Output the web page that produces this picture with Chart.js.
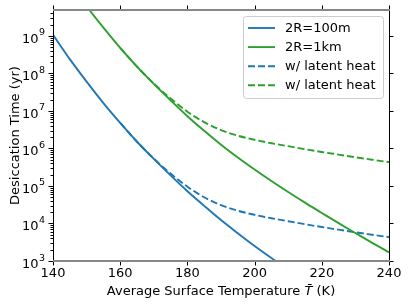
<!DOCTYPE html>
<html>
<head>
<meta charset="utf-8">
<script src="https://cdn.jsdelivr.net/npm/chart.js@4.4.1/dist/chart.umd.min.js"></script>
<style>
  html, body { margin: 0; padding: 0; background: #fff; }
  #box { width: 409px; height: 306px; }
</style>
</head>
<body>
<div id="box"><canvas id="chart"></canvas></div>
<script>
/* values, temperature in K, time in yr */
const temps = [140, 145, 150, 155, 160, 165, 170, 175, 180, 185, 190, 195, 200, 205, 210, 215, 220, 225, 230, 235, 240]

const time100m = [1.07e9, 2.40e8, 6.03e7, 1.62e7, 4.79e6, 1.51e6, 5.25e5, 1.91e5, 7.24e4, 2.95e4, 1.23e4, 5.50e3, 2.51e3, 1.20e3, 5.89e2,
	null, null, null, null, null, null]
const time1km = [null, 2.63e10, 6.17e9, 1.66e9, 4.79e8, 1.51e8, 5.25e7, 1.91e7, 7.24e6, 2.95e6, 1.26e6, 5.75e5, 2.75e5, 1.36e5, 6.92e4,
	3.59e4, 1.91e4, 1.02e4, 5.56e3, 3.05e3, 1.70e3]
const time100mLatent = [null, null, null, null, 4.79e6, 1.51e6, 5.37e5, 2.14e5, 9.55e4, 5.01e4, 3.09e4, 2.19e4, 1.70e4, 1.38e4, 1.15e4,
	9.55e3, 8.04e3, 6.84e3, 5.82e3, 5.01e3, 4.32e3]
const time1kmLatent = [null, null, null, null, 4.79e8, 1.51e8, 5.37e7, 2.14e7, 9.55e6, 5.01e6, 3.09e6, 2.19e6, 1.70e6, 1.38e6, 1.15e6,
	9.55e5, 8.04e5, 6.84e5, 5.82e5, 5.01e5, 4.32e5]

const labels = ['2R=100m', '2R=1km', 'w/ latent heat', 'w/ latent heat']
const xTicks = [140, 160, 180, 200, 220, 240]
const yExps = [3, 4, 5, 6, 7, 8, 9]

const blue = '#1f77b4'
const green = '#2ca02c'
const font = 'DejaVu Sans'

const toPoints = (arr) => temps.map((t, i) => ({ x: t, y: arr[i] }))

const line = (label, data, color, dash) => ({
	label: label,
	data: toPoints(data),
	borderColor: color,
	backgroundColor: color,
	borderWidth: 1.9,
	borderDash: dash,
	pointRadius: 0,
	cubicInterpolationMode: 'monotone',
	spanGaps: false
})

/* spines, tick marks and the 10^n labels, matplotlib style */
const frame = {
	id: 'frame',
	afterDraw(chart) {
		const { ctx, chartArea: a, scales: { x, y } } = chart
		ctx.save()
		ctx.strokeStyle = '#000'
		ctx.lineWidth = 1
		ctx.beginPath()
		ctx.moveTo(a.left + 0.5, a.top); ctx.lineTo(a.left + 0.5, a.bottom)
		ctx.moveTo(a.right + 0.5, a.top); ctx.lineTo(a.right + 0.5, a.bottom)
		xTicks.forEach((t) => {
			const px = Math.round(x.getPixelForValue(t)) + 0.5
			ctx.moveTo(px, a.bottom); ctx.lineTo(px, a.bottom + 4.5)
			ctx.moveTo(px, a.top); ctx.lineTo(px, a.top - 4.5)
		})
		yExps.forEach((e) => {
			for (let m = 1; m < 10; m++) {
				const v = m * Math.pow(10, e)
				if (v > y.max) break
				const py = Math.round(y.getPixelForValue(v)) + 0.5
				const len = m === 1 ? 4.5 : 2.5
				ctx.moveTo(a.left, py); ctx.lineTo(a.left - len, py)
				if (m === 1) { ctx.moveTo(a.right, py); ctx.lineTo(a.right + len, py) }
			}
		})
		ctx.stroke()
		ctx.strokeStyle = '#888'
		ctx.lineWidth = 2
		ctx.beginPath()
		ctx.moveTo(a.left, a.top); ctx.lineTo(a.right + 1, a.top)
		ctx.moveTo(a.left, a.bottom); ctx.lineTo(a.right + 1, a.bottom)
		ctx.stroke()

		ctx.fillStyle = '#000'
		// y tick labels: 10 with a raised exponent
		yExps.forEach((e) => {
			const py = y.getPixelForValue(Math.pow(10, e))
			const right = a.left - 8
			ctx.font = `9.5px "${font}"`
			const ew = ctx.measureText(String(e)).width
			ctx.textAlign = 'right'
			ctx.textBaseline = 'alphabetic'
			ctx.fillText(String(e), right, py - 0.5)
			ctx.font = `13px "${font}"`
			ctx.fillText('10', right - ew - 0.5, py + 7)
		})

		// x axis title with italic T-bar
		const cy = 292
		const parts = [['Average Surface Temperature ', 'normal'], ['T\u0304', 'italic'], [' (K)', 'normal']]
		let total = 0
		parts.forEach((p) => { ctx.font = `${p[1]} 13px "${font}"`; total += ctx.measureText(p[0]).width })
		let cx = (a.left + a.right) / 2 - total / 2
		ctx.textBaseline = 'middle'
		ctx.textAlign = 'left'
		parts.forEach((p) => {
			ctx.font = `${p[1]} 13px "${font}"`
			ctx.fillText(p[0], cx, cy)
			cx += ctx.measureText(p[0]).width
		})
		ctx.restore()
	}
}

/* legend box inside the upper right of the axes */
const innerLegend = {
	id: 'innerLegend',
	afterDraw(chart) {
		const { ctx, chartArea: a } = chart
		const w = 140, h = 82
		const x0 = a.right - 6 - w, y0 = a.top + 6
		ctx.save()
		ctx.beginPath()
		ctx.roundRect(x0 + 0.5, y0 + 0.5, w, h, 3)
		ctx.fillStyle = 'rgba(255,255,255,0.8)'
		ctx.fill()
		ctx.strokeStyle = '#cccccc'
		ctx.lineWidth = 1
		ctx.stroke()
		ctx.font = `13px "${font}"`
		ctx.textBaseline = 'middle'
		chart.data.datasets.forEach((ds, i) => {
			const ry = y0 + 12 + i * 19.1
			ctx.beginPath()
			ctx.setLineDash(ds.borderDash || [])
			ctx.strokeStyle = ds.borderColor
			ctx.lineWidth = ds.borderWidth
			ctx.moveTo(x0 + 5, ry); ctx.lineTo(x0 + 32, ry)
			ctx.stroke()
			ctx.setLineDash([])
			ctx.fillStyle = '#000'
			ctx.fillText(ds.label, x0 + 42, ry + 0.5)
		})
		ctx.restore()
	}
}

new Chart('chart', {
	type: 'line',
	data: {
		datasets: [
			line(labels[0], time100m, blue, []),
			line(labels[1], time1km, green, []),
			line(labels[2], time100mLatent, blue, [7, 3]),
			line(labels[3], time1kmLatent, green, [7, 3])
		]
	},
	options: {
		responsive: true,
		maintainAspectRatio: false,
		animation: false,
		layout: { padding: { top: 10, right: 20, left: 0, bottom: 0 } },
		plugins: { legend: { display: false }, tooltip: { enabled: false } },
		scales: {
			x: {
				type: 'linear',
				min: 140,
				max: 240,
				grid: { display: false, drawTicks: false },
				border: { display: false },
				ticks: { stepSize: 20, padding: 5, color: '#000', font: { family: font, size: 13 }, maxRotation: 0 },
				afterFit: (s) => { s.height = 45 }
			},
			y: {
				type: 'logarithmic',
				min: 1e3,
				max: 4.9e9,
				grid: { display: false, drawTicks: false },
				border: { display: false },
				ticks: { display: false },
				title: { display: true, text: 'Desiccation Time (yr)', color: '#000', font: { family: font, size: 13 }, padding: { top: 8, bottom: 0 } },
				afterFit: (s) => { s.width = 53 }
			}
		}
	},
	plugins: [frame, innerLegend]
})
</script>
</body>
</html>
